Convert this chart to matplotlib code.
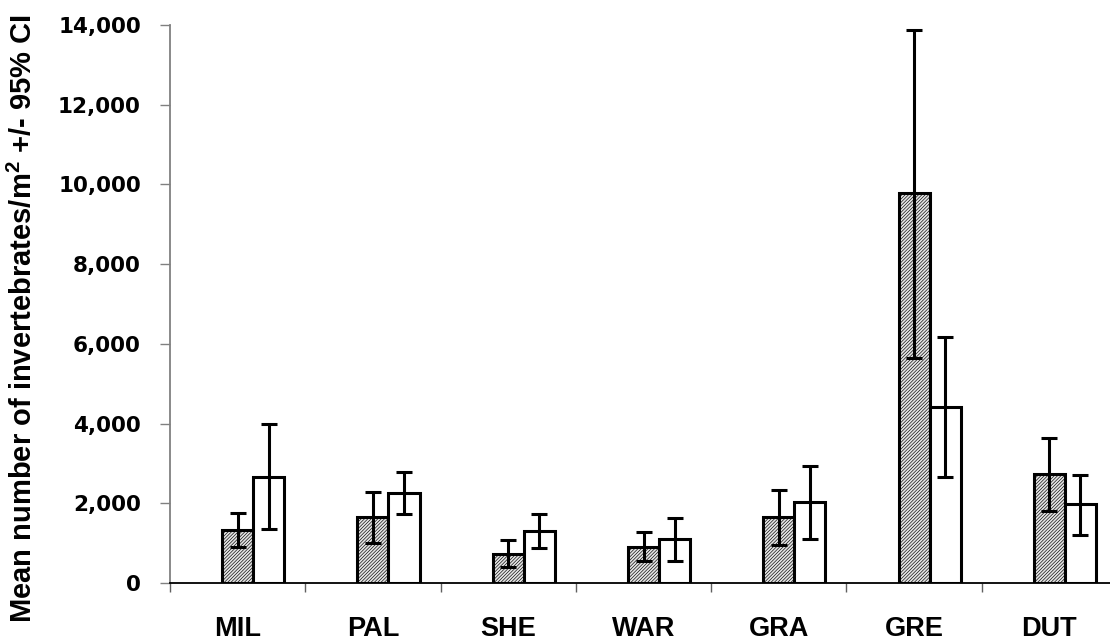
import matplotlib
matplotlib.use("Agg")
import matplotlib.pyplot as plt
from matplotlib.ticker import FuncFormatter
import numpy as np

# Sites and invertebrate densities (mean with 95% CI bounds)
sites = ["MIL", "PAL", "SHE", "WAR", "GRA", "GRE", "DUT"]

mean_a = [1330, 1660, 730, 895, 1645, 9780, 2725]
low_a = [910, 1010, 410, 545, 960, 5650, 1800]
high_a = [1765, 2285, 1080, 1270, 2335, 13880, 3645]

mean_b = [2650, 2265, 1310, 1110, 2025, 4425, 1975]
low_b = [1345, 1730, 870, 545, 1110, 2670, 1205]
high_b = [3980, 2795, 1740, 1640, 2935, 6170, 2700]

y_ticks = [0, 2000, 4000, 6000, 8000, 10000, 12000, 14000]

plt.rcParams["hatch.linewidth"] = 0.45
plt.rcParams["mathtext.fontset"] = "custom"
plt.rcParams["mathtext.bf"] = "Liberation Sans:bold"
plt.rcParams["mathtext.rm"] = "Liberation Sans:bold"
plt.rcParams["mathtext.default"] = "bf"

fig = plt.figure(figsize=(11.10, 6.43), dpi=100)
ax = fig.add_axes([170 / 1110, 60 / 643, 947 / 1110, 558 / 643])

n = len(sites)
centers = np.arange(n) + 0.5
w = 0.23

err_a = [np.array(mean_a) - np.array(low_a), np.array(high_a) - np.array(mean_a)]
err_b = [np.array(mean_b) - np.array(low_b), np.array(high_b) - np.array(mean_b)]

ax.bar(centers, mean_a, width=w, facecolor="#e4e4e4", edgecolor="black",
       hatch="//////////", linewidth=2.2, zorder=2)
ax.bar(centers + w, mean_b, width=w, facecolor="white", edgecolor="black",
       linewidth=2.2, zorder=2)

ax.errorbar(centers, mean_a, yerr=err_a, fmt="none", ecolor="black",
            elinewidth=2.2, capsize=5.5, capthick=2.2, zorder=3)
ax.errorbar(centers + w, mean_b, yerr=err_b, fmt="none", ecolor="black",
            elinewidth=2.2, capsize=5.5, capthick=2.2, zorder=3)

ax.set_xlim(0, n)
ax.set_ylim(0, 14000)

for s in ["top", "right"]:
    ax.spines[s].set_visible(False)
ax.spines["left"].set_color("#808080")
ax.spines["left"].set_linewidth(1.3)
ax.spines["bottom"].set_color("black")
ax.spines["bottom"].set_linewidth(1.3)

ax.set_yticks(y_ticks)
ax.yaxis.set_major_formatter(FuncFormatter(lambda v, p: f"{int(v):,}"))
ax.tick_params(axis="y", direction="out", length=7, width=1, color="#808080",
               pad=14)
for lab in ax.get_yticklabels():
    lab.set_fontfamily("DejaVu Sans")
    lab.set_fontweight("heavy")
    lab.set_fontsize(15.5)

ax.set_xticks(centers)
ax.set_xticklabels(sites, fontfamily="Liberation Sans", fontweight="bold",
                   fontsize=19.5)
ax.set_xticks(np.arange(0, n + 1), minor=True)
ax.tick_params(axis="x", which="major", length=0, pad=24)
ax.tick_params(axis="x", which="minor", direction="out", length=6.5, width=1,
               color="#606060")

fig.text(23 / 1110, 0.505, r"Mean number of invertebrates/m$^{2}$ +/- 95% CI",
         rotation=90, ha="center", va="center", fontfamily="Liberation Sans",
         fontweight="bold", fontsize=21)

fig.savefig("out.png", dpi=100)
